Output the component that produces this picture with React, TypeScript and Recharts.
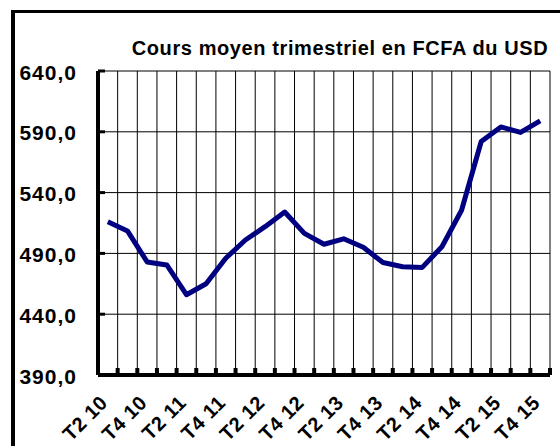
import { LineChart, Line, XAxis, YAxis, CartesianGrid } from 'recharts'

const quarters = [
  'T2 10', 'T3 10', 'T4 10',
  'T1 11', 'T2 11', 'T3 11', 'T4 11',
  'T1 12', 'T2 12', 'T3 12', 'T4 12',
  'T1 13', 'T2 13', 'T3 13', 'T4 13',
  'T1 14', 'T2 14', 'T3 14', 'T4 14',
  'T1 15', 'T2 15', 'T3 15', 'T4 15',
]
const cours = [
  516, 508.5, 483,
  480.5, 456, 465, 486,
  501, 512, 524, 506.5,
  497.5, 502, 495, 482.5,
  479, 478.5, 495.5, 525.5,
  582, 594, 589.5, 599,
]
const yTicks = [390, 440, 490, 540, 590, 640]
const title = 'Cours moyen trimestriel en FCFA du USD'

const data = quarters.map((q, i) => ({ q, v: cours[i] }))

const W = 560
const H = 446
const LEFT = 98
const RIGHT = 10
const TOP = 71
const BOTTOM = 71
const PLOT_W = W - LEFT - RIGHT
const BAND = PLOT_W / quarters.length
const FONT = 'Arial, "Liberation Sans", sans-serif'

const fmt = (v: number) => v.toFixed(1).replace('.', ',')

function YTick(props: any) {
  const { x, y, payload } = props
  return (
    <g>
      <line x1={x} x2={x + 7} y1={y} y2={y} stroke="#000" strokeWidth={3} />
      <text x={x - 21} y={y + 8.5} textAnchor="end" fontFamily={FONT} fontWeight="bold"
        fontSize={21} letterSpacing={1} fill="#000">
        {fmt(payload.value)}
      </text>
    </g>
  )
}

function XTick(props: any) {
  const { x, y, payload, index } = props
  const i = index ?? payload.index
  const marks = [x - BAND / 2]
  if (i === quarters.length - 1) marks.push(x + BAND / 2)
  const px = x + 1
  const py = y + 29
  return (
    <g>
      {marks.map((m, k) => (
        <rect key={k} x={m - 2} y={y - 7} width={4} height={7} fill="#000" />
      ))}
      {i % 2 === 0 && (
        <g transform={`translate(${px},${py}) rotate(-45)`}>
          <text x={0} y={0} textAnchor="end" fontFamily={FONT} fontWeight="bold"
            fontSize={20} letterSpacing={0.5} fill="#000">
            {payload.value}
          </text>
        </g>
      )}
    </g>
  )
}

export default function App() {
  return (
    <div style={{ position: 'absolute', left: 0, top: 0, width: W, height: H, overflow: 'hidden', background: '#fff' }}>
      <div style={{
        position: 'absolute', left: 11, top: 10, width: 700, height: 700,
        borderLeft: '4px solid #000', borderTop: '3px solid #000',
      }} />
      <div style={{
        position: 'absolute', left: 120, top: 38, width: 440, textAlign: 'center',
        fontFamily: FONT, fontWeight: 'bold', fontSize: 20, lineHeight: 1,
        letterSpacing: 0.6, color: '#000', whiteSpace: 'nowrap',
      }}>
        {title}
      </div>
      <LineChart width={W} height={H} data={data}
        margin={{ top: TOP, right: RIGHT, left: 0, bottom: 0 }}
        style={{ position: 'absolute', left: 0, top: 0 }}>
        <CartesianGrid stroke="#000" strokeWidth={1}
          verticalCoordinatesGenerator={({ offset }: any) =>
            Array.from({ length: quarters.length + 1 }, (_, i) => offset.left + (i * offset.width) / quarters.length)}
        />
        <XAxis dataKey="q" interval={0} height={BOTTOM} tickSize={0} tickMargin={0}
          padding={{ left: BAND / 2, right: BAND / 2 }}
          axisLine={{ stroke: '#000', strokeWidth: 4 }} tickLine={false} tick={<XTick />} />
        <YAxis domain={[390, 640]} ticks={yTicks} width={LEFT} tickSize={0} tickMargin={0}
          axisLine={{ stroke: '#000', strokeWidth: 4 }} tickLine={false} tick={<YTick />} />
        <Line type="linear" dataKey="v" stroke="#000080" strokeWidth={5} dot={false}
          isAnimationActive={false} strokeLinejoin="round" />
      </LineChart>
    </div>
  )
}
